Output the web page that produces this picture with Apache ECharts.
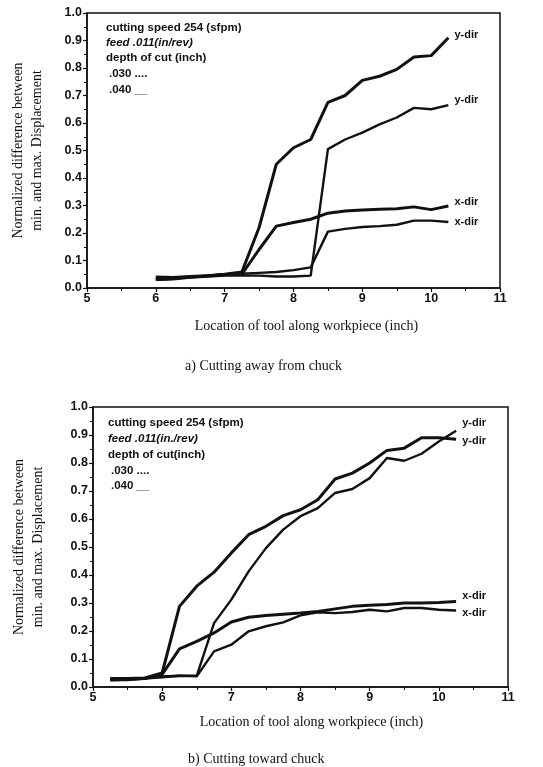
<!DOCTYPE html>
<html>
<head>
<meta charset="utf-8">
<script src="https://cdn.jsdelivr.net/npm/echarts@6/dist/echarts.min.js"></script>
<style>
  html, body { margin: 0; padding: 0; background: #fff; }
  #chart { width: 543px; height: 767px; }
</style>
</head>
<body>
<div id="chart"></div>
<script>
// a) cutting away from chuck
const xA = [6.0, 6.25, 6.5, 6.75, 7.0, 7.25, 7.5, 7.75, 8.0, 8.25, 8.5, 8.75, 9.0, 9.25, 9.5, 9.75, 10.0, 10.25];
const aYUpper = [0.040, 0.038, 0.042, 0.045, 0.050, 0.058, 0.22, 0.45, 0.51, 0.54, 0.675, 0.70, 0.755, 0.77, 0.795, 0.84, 0.845, 0.91];
const aYLower = [0.030, 0.032, 0.038, 0.042, 0.045, 0.045, 0.045, 0.042, 0.042, 0.045, 0.505, 0.54, 0.565, 0.595, 0.62, 0.655, 0.65, 0.665];
const aXUpper = [0.035, 0.036, 0.040, 0.044, 0.048, 0.050, 0.14, 0.225, 0.238, 0.25, 0.272, 0.28, 0.284, 0.286, 0.288, 0.295, 0.285, 0.298];
const aXLower = [0.030, 0.033, 0.040, 0.045, 0.050, 0.052, 0.055, 0.058, 0.065, 0.075, 0.205, 0.215, 0.222, 0.225, 0.23, 0.245, 0.245, 0.24];

// b) cutting toward chuck
const xB = [5.25, 5.5, 5.75, 6.0, 6.25, 6.5, 6.75, 7.0, 7.25, 7.5, 7.75, 8.0, 8.25, 8.5, 8.75, 9.0, 9.25, 9.5, 9.75, 10.0, 10.25];
const bYUpper = [0.030, 0.030, 0.032, 0.050, 0.288, 0.36, 0.41, 0.479, 0.544, 0.574, 0.612, 0.633, 0.669, 0.743, 0.764, 0.80, 0.845, 0.853, 0.89, 0.89, 0.885];
const bYLower = [0.025, 0.025, 0.030, 0.035, 0.040, 0.040, 0.228, 0.312, 0.413, 0.496, 0.562, 0.61, 0.639, 0.693, 0.707, 0.746, 0.818, 0.808, 0.833, 0.877, 0.915];
const bXUpper = [0.025, 0.028, 0.030, 0.045, 0.136, 0.163, 0.193, 0.232, 0.249, 0.255, 0.26, 0.264, 0.27, 0.279, 0.288, 0.292, 0.295, 0.30, 0.30, 0.302, 0.305];
const bXLower = [0.030, 0.030, 0.032, 0.038, 0.040, 0.038, 0.127, 0.151, 0.199, 0.217, 0.231, 0.256, 0.267, 0.264, 0.268, 0.276, 0.27, 0.282, 0.282, 0.276, 0.273];

const legendLines = ['cutting speed 254 (sfpm)', 'feed .011(in/rev)', 'depth of cut (inch)', '.030 ....', '.040 __'];
const legendLinesB = ['cutting speed 254 (sfpm)', 'feed .011(in./rev)', 'depth of cut(inch)', '.030 ....', '.040 __'];

const SANS = '"Liberation Sans", Arial, sans-serif';
const SERIF = '"Liberation Serif", "Times New Roman", serif';
const INK = '#111';

const pairs = (xs, ys) => xs.map((x, i) => [x, ys[i]]);

function makeX(gridIndex, nameGap, shift) {
  return {
    type: 'value', gridIndex: gridIndex, min: 5, max: 11, interval: 1,
    name: 'Location of tool along workpiece (inch)',
    nameLocation: 'middle', nameGap: nameGap,
    nameTextStyle: { fontFamily: SERIF, fontSize: 14, color: INK, padding: [0, 0, 0, shift] },
    axisLine: { lineStyle: { color: INK, width: 1.5 } },
    axisTick: { show: true, length: 4, lineStyle: { color: INK, width: 1.2 } },
    minorTick: { show: true, splitNumber: 2, length: 3, lineStyle: { color: INK, width: 1 } },
    splitLine: { show: false },
    axisLabel: { fontFamily: SANS, fontWeight: 'bold', fontSize: 12.5, color: INK, margin: 4 }
  };
}

function makeY(gridIndex, nameGap) {
  return {
    type: 'value', gridIndex: gridIndex, min: 0, max: 1, interval: 0.1,
    name: 'Normalized difference between\nmin. and max. Displacement',
    nameLocation: 'middle', nameRotate: 90, nameGap: nameGap,
    nameTextStyle: { fontFamily: SERIF, fontSize: 14, color: INK, lineHeight: 19 },
    axisLine: { show: true, lineStyle: { color: INK, width: 1.5 } },
    axisTick: { show: true, length: 4, lineStyle: { color: INK, width: 1.2 } },
    minorTick: { show: true, splitNumber: 2, length: 3, lineStyle: { color: INK, width: 1 } },
    splitLine: { show: false },
    axisLabel: { fontFamily: SANS, fontWeight: 'bold', fontSize: 12.5, color: INK, margin: 5,
      formatter: v => v.toFixed(1) }
  };
}

function makeLine(idx, data, width, label, dy) {
  return {
    type: 'line', xAxisIndex: idx, yAxisIndex: idx, data: data,
    symbol: 'none', smooth: false,
    lineStyle: { color: INK, width: width },
    endLabel: { show: true, formatter: label, offset: [1, dy], distance: 5,
      fontFamily: SANS, fontWeight: 'bold', fontSize: 11, color: INK },
    emphasis: { disabled: true }
  };
}

function legendBlock(x, ys, lines) {
  return lines.map((t, i) => ({
    type: 'text', left: x + (i >= 3 ? 3 : 0), top: ys[i],
    style: { text: t, fontFamily: SANS, fontWeight: 'bold', fontSize: 11.5, fill: INK,
      fontStyle: i === 1 ? 'italic' : 'normal' }
  }));
}

const chart = echarts.init(document.getElementById('chart'));

chart.setOption({
  animation: false,
  grid: [
    { left: 87, right: 43, top: 13, height: 275, show: true, borderColor: INK, borderWidth: 1.5,
      outerBoundsMode: 'none', containLabel: false },
    { left: 93, right: 35, top: 407, height: 280, show: true, borderColor: INK, borderWidth: 1.5,
      outerBoundsMode: 'none', containLabel: false }
  ],
  xAxis: [makeX(0, 31, 26), makeX(1, 28, 22)],
  yAxis: [makeY(0, 40), makeY(1, 45)],
  series: [
    makeLine(0, pairs(xA, aYUpper), 3, 'y-dir', -3),
    makeLine(0, pairs(xA, aYLower), 2.4, 'y-dir', -5),
    makeLine(0, pairs(xA, aXUpper), 3, 'x-dir', -4),
    makeLine(0, pairs(xA, aXLower), 2.4, 'x-dir', 0),
    makeLine(1, pairs(xB, bYUpper), 3, 'y-dir', 2),
    makeLine(1, pairs(xB, bYLower), 2.4, 'y-dir', -8),
    makeLine(1, pairs(xB, bXUpper), 3, 'x-dir', -6),
    makeLine(1, pairs(xB, bXLower), 2.4, 'x-dir', 2)
  ],
  graphic: [
    ...legendBlock(106, [22, 37, 52, 68, 84], legendLines),
    ...legendBlock(108, [417, 433, 449, 465, 480], legendLinesB),
    { type: 'text', left: 185, top: 359,
      style: { text: 'a) Cutting away from chuck', fontFamily: SERIF, fontSize: 14, fill: INK } },
    { type: 'text', left: 188, top: 752,
      style: { text: 'b) Cutting toward chuck', fontFamily: SERIF, fontSize: 14, fill: INK } }
  ]
});
</script>
</body>
</html>
